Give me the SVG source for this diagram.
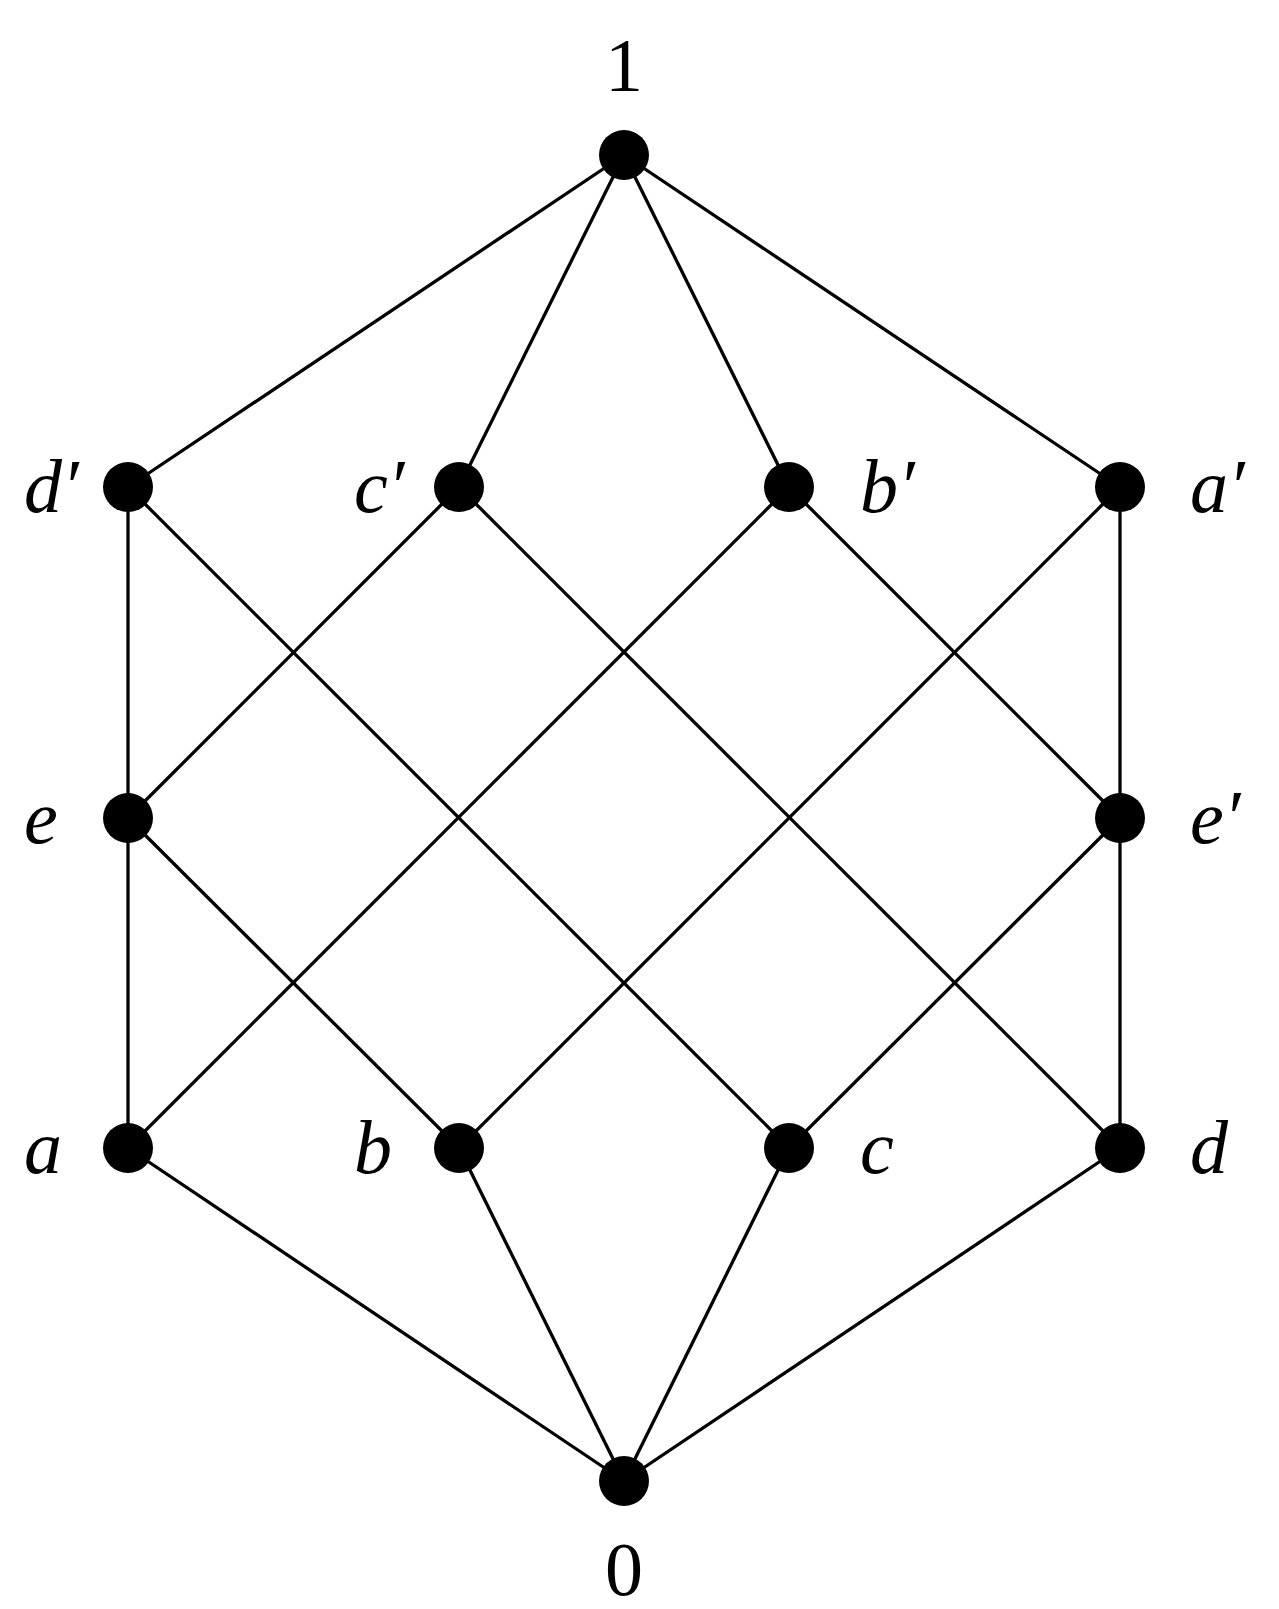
<svg xmlns="http://www.w3.org/2000/svg" width="1279" height="1609" viewBox="0 0 1279 1609">
<style>
.e line{stroke:#000;stroke-width:3.3}
circle{fill:#000}
text{font-family:"Liberation Serif",serif;font-size:76px;font-style:italic}
.n{font-style:normal}
</style>
<rect width="1279" height="1609" fill="#fff"/>
<g class="e" id="edges">
<line x1="624" y1="155" x2="128" y2="487"/><line x1="624" y1="155" x2="459" y2="487"/><line x1="624" y1="155" x2="789" y2="487"/><line x1="624" y1="155" x2="1120" y2="487"/>
<line x1="128" y1="487" x2="128" y2="818"/><line x1="128" y1="487" x2="789" y2="1148"/>
<line x1="459" y1="487" x2="128" y2="818"/><line x1="459" y1="487" x2="1120" y2="1148"/>
<line x1="789" y1="487" x2="128" y2="1148"/><line x1="789" y1="487" x2="1120" y2="818"/>
<line x1="1120" y1="487" x2="459" y2="1148"/><line x1="1120" y1="487" x2="1120" y2="818"/>
<line x1="128" y1="818" x2="128" y2="1148"/><line x1="128" y1="818" x2="459" y2="1148"/>
<line x1="1120" y1="818" x2="1120" y2="1148"/><line x1="1120" y1="818" x2="789" y2="1148"/>
<line x1="128" y1="1148" x2="624" y2="1481"/><line x1="459" y1="1148" x2="624" y2="1481"/><line x1="789" y1="1148" x2="624" y2="1481"/><line x1="1120" y1="1148" x2="624" y2="1481"/>
</g>
<g id="n1"><circle cx="624" cy="155" r="25"/><text class="n" x="624" y="91" text-anchor="middle">1</text></g>
<g id="nd1"><circle cx="128" cy="487" r="25"/><text x="24" y="512">d′</text></g>
<g id="nc1"><circle cx="459" cy="487" r="25"/><text x="354" y="512">c′</text></g>
<g id="nb1"><circle cx="789" cy="487" r="25"/><text x="860" y="512">b′</text></g>
<g id="na1"><circle cx="1120" cy="487" r="25"/><text x="1190" y="512">a′</text></g>
<g id="ne"><circle cx="128" cy="818" r="25"/><text x="24" y="843">e</text></g>
<g id="ne1"><circle cx="1120" cy="818" r="25"/><text x="1190" y="843">e′</text></g>
<g id="na"><circle cx="128" cy="1148" r="25"/><text x="24" y="1173">a</text></g>
<g id="nb"><circle cx="459" cy="1148" r="25"/><text x="354" y="1173">b</text></g>
<g id="nc"><circle cx="789" cy="1148" r="25"/><text x="860" y="1173">c</text></g>
<g id="nd"><circle cx="1120" cy="1148" r="25"/><text x="1190" y="1173">d</text></g>
<g id="n0"><circle cx="624" cy="1481" r="25"/><text class="n" x="624" y="1595" text-anchor="middle">0</text></g>
</svg>
